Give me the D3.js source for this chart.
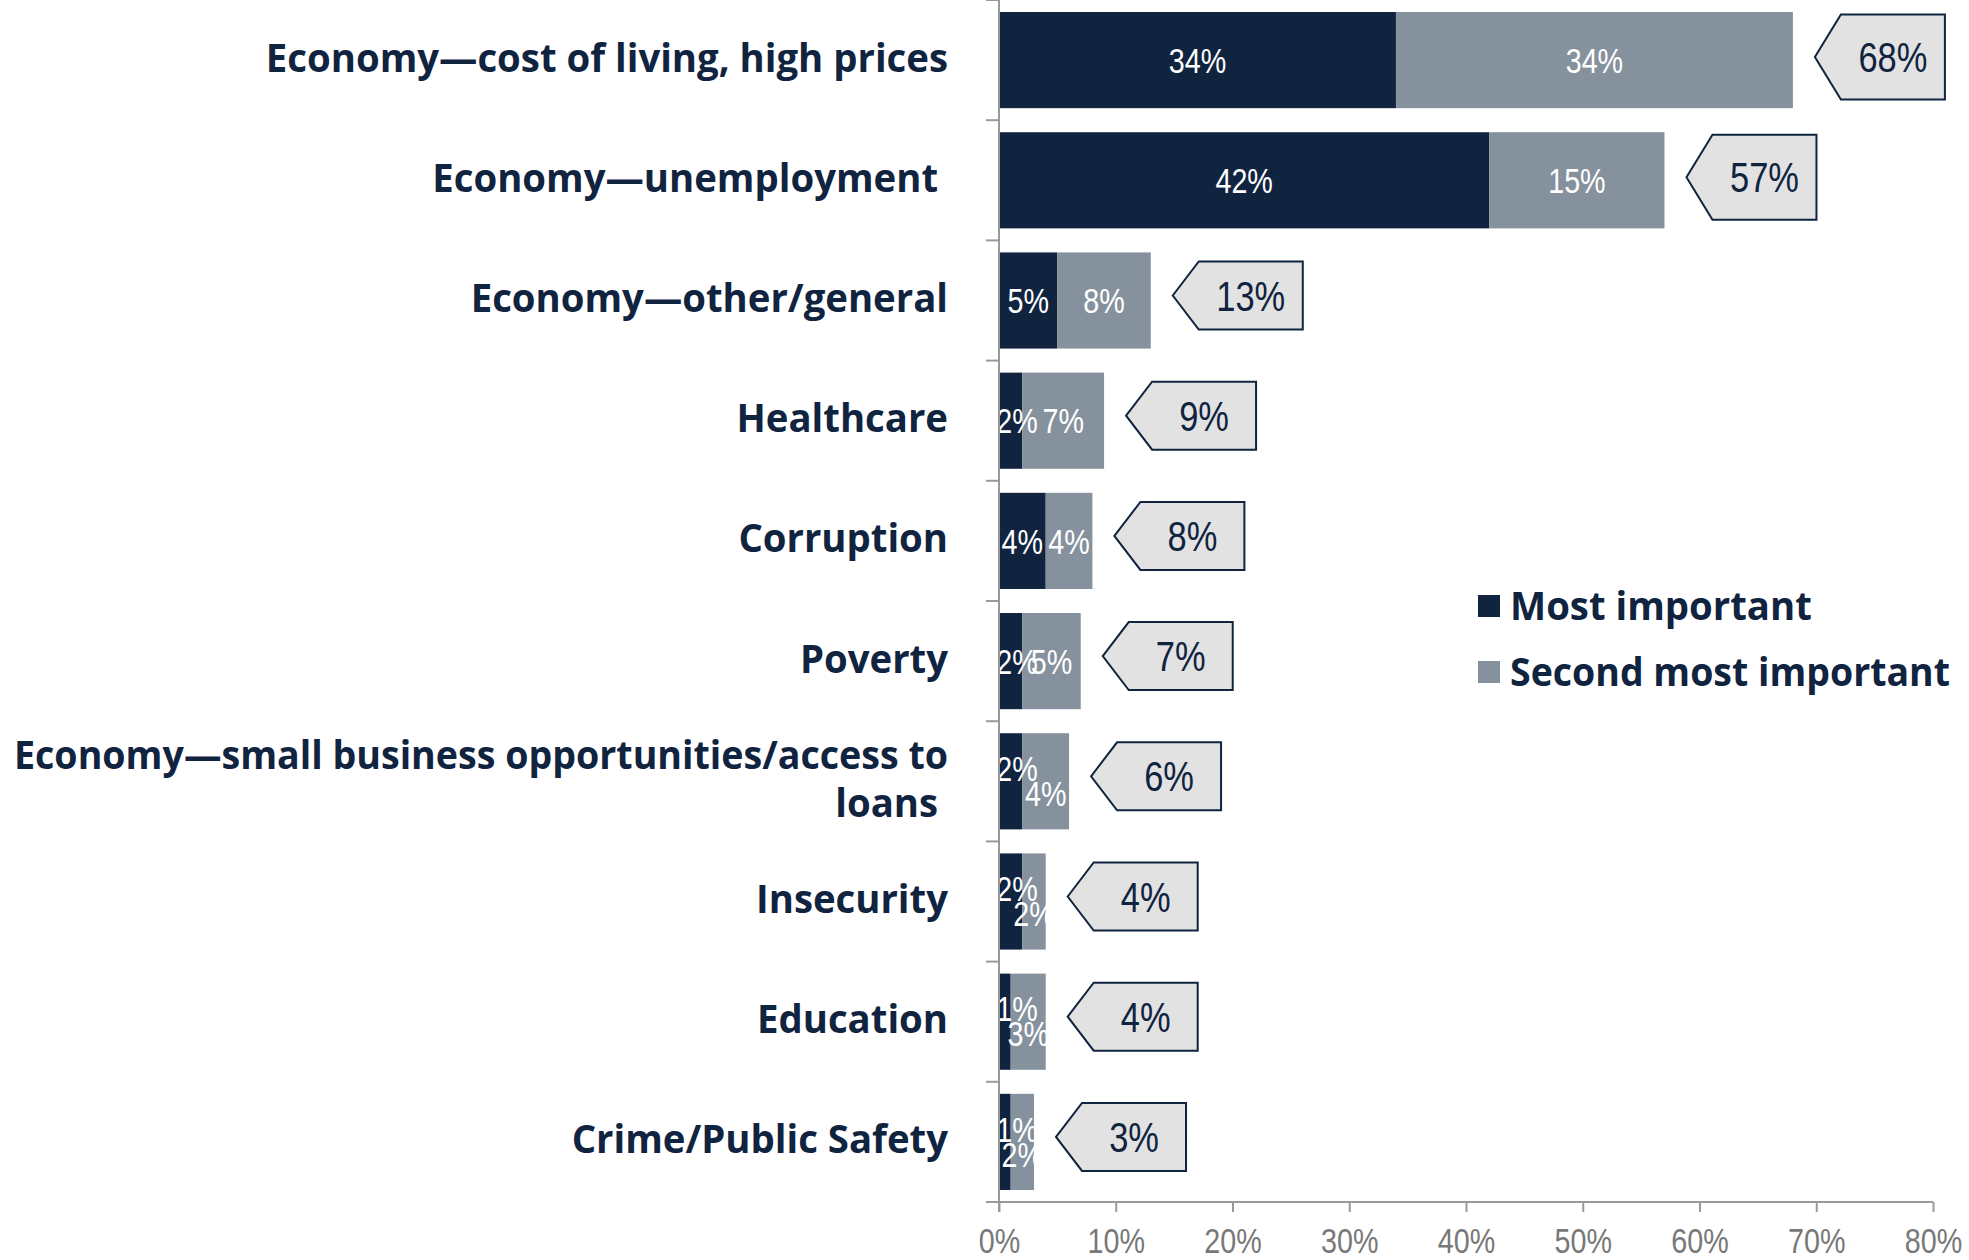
<!DOCTYPE html>
<html>
<head>
<meta charset="utf-8">
<script src="https://cdn.jsdelivr.net/npm/d3@7"></script>
<style>
  body { margin: 0; background: #fff; }
  svg { display: block; }
  .cat text, .legend text { font-family: "Open Sans", sans-serif; font-weight: 700; font-size: 40px; fill: #10233f; white-space: pre; }
  .num { font-family: "Liberation Sans", Arial, sans-serif; }
</style>
</head>
<body>
<div id="chart"></div>
<script>
const categories = [
  "Economy—cost of living, high prices",
  "Economy—unemployment ",
  "Economy—other/general",
  "Healthcare",
  "Corruption",
  "Poverty",
  "Economy—small business opportunities/access to loans ",
  "Insecurity",
  "Education",
  "Crime/Public Safety"
];
const mostImportant = [34, 42, 5, 2, 4, 2, 2, 2, 1, 1];
const secondMost = [34, 15, 8, 7, 4, 5, 4, 2, 3, 2];
const totals = [68, 57, 13, 9, 8, 7, 6, 4, 4, 3];
const xTicks = [0, 10, 20, 30, 40, 50, 60, 70, 80];
const seriesNames = ["Most important", "Second most important"];

const W = 1969, H = 1260;
const margin = { top: 0, left: 999, right: 36, bottom: 58 };
const navy = "#10233f", steel = "#86919e", axisGray = "#9a9a9a";
const NARROW = 0.82, LABEL = 0.958;

// squeeze text horizontally (no narrow fonts installed)
function squeeze(sel, k, maxW) {
  sel.each(function() {
    let len = this.getComputedTextLength() * k;
    if (maxW) len = Math.min(len, maxW);
    d3.select(this).attr("textLength", len).attr("lengthAdjust", "spacingAndGlyphs");
  });
}

const x = d3.scaleLinear().domain([0, 80]).range([margin.left, W - margin.right]);
const y = d3.scaleBand()
  .domain(categories)
  .range([margin.top, H - margin.bottom])
  .paddingInner(0.2)
  .paddingOuter(0.1);

const color = d3.scaleOrdinal().domain(seriesNames).range([navy, steel]);

const svg = d3.select("#chart")
  .append("svg")
  .attr("width", W)
  .attr("height", H);

const rows = categories.map((c, i) => ({
  cat: c,
  segs: [
    { name: seriesNames[0], x0: 0, x1: mostImportant[i], v: mostImportant[i], off: -13 },
    { name: seriesNames[1], x0: mostImportant[i], x1: mostImportant[i] + secondMost[i], v: secondMost[i], off: 12 }
  ],
  total: totals[i],
  idx: i
}));

// bars
const rowG = svg.selectAll(".row")
  .data(rows)
  .enter().append("g")
  .attr("class", "row");

rowG.selectAll("rect")
  .data(d => d.segs.map(s => Object.assign({ cat: d.cat, total: d.total }, s)))
  .enter().append("rect")
  .attr("x", d => x(d.x0))
  .attr("y", d => y(d.cat))
  .attr("width", d => x(d.x1) - x(d.x0))
  .attr("height", y.bandwidth())
  .attr("fill", d => color(d.name));

// value labels inside bars
rowG.selectAll(".val")
  .data(d => d.segs.map(s => Object.assign({ cat: d.cat, total: d.total }, s)))
  .enter().append("text")
  .attr("class", "val num")
  .attr("text-anchor", "middle")
  .attr("font-size", 35)
  .attr("fill", "#fff")
  .attr("dy", "0.36em")
  .attr("y", d => y(d.cat) + y.bandwidth() / 2 + (d.total < 7 ? d.off : 0))
  .text(d => d.v + "%")
  .call(squeeze, NARROW)
  .attr("x", function(d) {
    const w = this.getComputedTextLength() * NARROW;
    return Math.max((x(d.x0) + x(d.x1)) / 2, x(0) + w / 2 + 1);
  });

// total callouts (arrow boxes pointing left)
const point = 26, bodyW = 104, gap = 22;
const callout = svg.selectAll(".callout")
  .data(rows)
  .enter().append("g")
  .attr("class", "callout")
  .attr("transform", d => {
    const cy = y(d.cat) + y.bandwidth() / 2 - (d.idx < 2 ? 3 : 5);
    return `translate(${x(d.total) + gap},${cy})`;
  });

callout.append("path")
  .attr("d", d => {
    const h = d.idx < 2 ? 85 : 68;
    return `M0,0 L${point},${-h / 2} L${point + bodyW},${-h / 2} L${point + bodyW},${h / 2} L${point},${h / 2} Z`;
  })
  .attr("fill", "#e2e2e2")
  .attr("stroke", navy)
  .attr("stroke-width", 2);

callout.append("text")
  .attr("class", "num")
  .attr("x", point + bodyW / 2)
  .attr("dy", "0.36em")
  .attr("text-anchor", "middle")
  .attr("font-size", 42)
  .attr("fill", navy)
  .text(d => d.total + "%")
  .call(squeeze, NARROW);

// left axis: line + ticks at category boundaries
const yAxisG = svg.append("g");
yAxisG.append("line")
  .attr("x1", x(0)).attr("x2", x(0))
  .attr("y1", margin.top).attr("y2", H - margin.bottom + 10)
  .attr("stroke", axisGray).attr("stroke-width", 2);
yAxisG.selectAll(".ytick")
  .data(d3.range(categories.length + 1))
  .enter().append("line")
  .attr("x1", x(0) - 13).attr("x2", x(0))
  .attr("y1", i => margin.top + i * (H - margin.top - margin.bottom) / categories.length)
  .attr("y2", i => margin.top + i * (H - margin.top - margin.bottom) / categories.length)
  .attr("stroke", axisGray).attr("stroke-width", 2);

// category labels
const cat = svg.append("g").attr("class", "cat");
cat.selectAll("text")
  .data(categories)
  .enter().append("text")
  .attr("text-anchor", "end")
  .each(function(d) {
    const t = d3.select(this);
    const words = d.split(" ");
    const tmp = t.append("tspan");
    const lines = [];
    let line = [];
    words.forEach(w => {
      line.push(w);
      tmp.text(line.join(" "));
      if (tmp.node().getComputedTextLength() * LABEL > 965 && line.length > 1) {
        line.pop();
        lines.push(line.join(" "));
        line = [w];
      }
    });
    lines.push(line.join(" "));
    tmp.remove();
    const lh = 48;
    const cy = y(d) + y.bandwidth() / 2 - 3;
    lines.forEach((l, i) => {
      t.append("tspan")
        .attr("x", 948)
        .attr("y", cy + (i - (lines.length - 1) / 2) * lh)
        .attr("dy", "0.36em")
        .text(l)
        .call(squeeze, LABEL, 934);
    });
  });

// bottom axis
const xAxis = d3.axisBottom(x)
  .tickValues(xTicks)
  .tickFormat(d => d + "%")
  .tickSize(10)
  .tickSizeOuter(0);
const xg = svg.append("g")
  .attr("transform", `translate(0,${H - margin.bottom})`)
  .call(xAxis);
xg.select(".domain").remove();
xg.append("line")
  .attr("x1", x(0) - 13).attr("x2", x(80))
  .attr("stroke", axisGray).attr("stroke-width", 2);
xg.selectAll(".tick line").attr("stroke", axisGray).attr("stroke-width", 2);
xg.selectAll(".tick text")
  .attr("class", "num")
  .attr("font-size", 35)
  .attr("fill", "#787878")
  .attr("y", 51)
  .attr("dy", 0)
  .call(squeeze, NARROW);

// legend
const legend = svg.append("g")
  .attr("class", "legend")
  .selectAll("g")
  .data(seriesNames)
  .enter().append("g")
  .attr("transform", (d, i) => `translate(1478,${606 + i * 66})`);
legend.append("rect")
  .attr("y", -11)
  .attr("width", 22)
  .attr("height", 22)
  .attr("fill", d => color(d));
legend.append("text")
  .attr("x", 32)
  .attr("dy", "0.36em")
  .text(d => d)
  .call(squeeze, LABEL, 440);
</script>
</body>
</html>
